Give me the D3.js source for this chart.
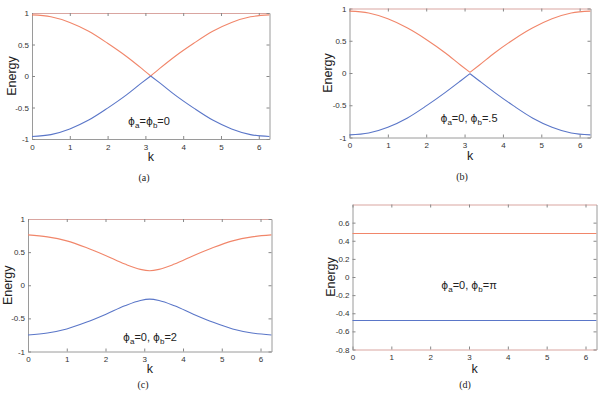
<!DOCTYPE html>
<html>
<head>
<meta charset="utf-8">
<script src="https://cdn.jsdelivr.net/npm/d3@7"></script>
<style>
  body { margin: 0; background: #fff; }
  svg { display: block; font-family: "Liberation Sans", Arial, sans-serif; }
</style>
</head>
<body>
<svg id="fig" width="598" height="399"></svg>
<script>
// k samples shared by every panel (0 .. 2pi)
const kValues = [0, 0.5, 1, 1.5, 2, 2.5, 2.9, 3.14, 3.38, 3.78, 4.28, 4.78, 5.28, 5.78, 6.28];

// band energies
const upperA = [0.97, 0.94, 0.85, 0.71, 0.52, 0.31, 0.12, 0.0, 0.12, 0.31, 0.52, 0.71, 0.85, 0.94, 0.97];
const lowerA = [-0.96, -0.93, -0.84, -0.70, -0.51, -0.30, -0.11, 0.0, -0.11, -0.30, -0.51, -0.70, -0.84, -0.93, -0.96];
const upperB = [0.96, 0.93, 0.84, 0.70, 0.52, 0.31, 0.12, 0.01, 0.12, 0.31, 0.52, 0.70, 0.84, 0.93, 0.96];
const lowerB = [-0.96, -0.93, -0.84, -0.70, -0.51, -0.30, -0.12, -0.01, -0.12, -0.30, -0.51, -0.70, -0.84, -0.93, -0.96];
const upperC = [0.76, 0.73, 0.67, 0.57, 0.45, 0.32, 0.24, 0.22, 0.24, 0.32, 0.45, 0.57, 0.67, 0.73, 0.76];
const lowerC = [-0.75, -0.72, -0.66, -0.56, -0.44, -0.31, -0.23, -0.21, -0.23, -0.31, -0.44, -0.56, -0.66, -0.72, -0.75];
const upperD = [0.48, 0.48, 0.48, 0.48, 0.48, 0.48, 0.48, 0.48, 0.48, 0.48, 0.48, 0.48, 0.48, 0.48, 0.48];
const lowerD = [-0.48, -0.48, -0.48, -0.48, -0.48, -0.48, -0.48, -0.48, -0.48, -0.48, -0.48, -0.48, -0.48, -0.48, -0.48];

// tick labels
const xTicks = [0, 1, 2, 3, 4, 5, 6];
const yTicksABC = [-1, -0.5, 0, 0.5, 1];
const yTicksD = [-0.8, -0.6, -0.4, -0.2, 0, 0.2, 0.4, 0.6];
const captions = ["(a)", "(b)", "(c)", "(d)"];
const phiAval = ["=", "=0, ", "=0, ", "=0, "];
const phiBval = ["=0", "=.5", "=2", "=\u03c0"];

const orange = "#f1866a";
const blue = "#5a76c8";

// layout of each panel (frame box, label spots)
const panels = [
  { box: [32, 13, 269.5, 139], yDom: [-1, 1], yTicks: yTicksABC, up: upperA, lo: lowerA, cusp: true,
    energyX: 12, kY: 157, capX: 144, capY: 177, annX: 149, annY: 125 },
  { box: [349.5, 8.5, 590.5, 137.5], yDom: [-1, 1], yTicks: yTicksABC, up: upperB, lo: lowerB, cusp: true,
    energyX: 328, kY: 156, capX: 462, capY: 176, annX: 469, annY: 122 },
  { box: [28, 219, 271.5, 351.5], yDom: [-1, 1], yTicks: yTicksABC, up: upperC, lo: lowerC, cusp: false,
    energyX: 8, kY: 369, capX: 143, capY: 384, annX: 150, annY: 341 },
  { box: [352.5, 204.5, 596.5, 349.5], yDom: [-0.8, 0.8], yTicks: yTicksD, up: upperD, lo: lowerD, cusp: false,
    energyX: 331, kY: 369, capX: 465, capY: 384, annX: 469, annY: 289 }
];

const svg = d3.select("#fig");

panels.forEach(function(p, i) {
  const [x0, y0, x1, y1] = p.box;
  const xScale = d3.scaleLinear().domain([0, 2 * Math.PI]).range([x0, x1]);
  const yScale = d3.scaleLinear().domain(p.yDom).range([y1, y0]);
  const g = svg.append("g");

  // matlab style box, inward ticks on all four sides
  const fmt = d => String(d);
  const bottom = g.append("g").attr("transform", `translate(0,${y1})`)
    .call(d3.axisBottom(xScale).tickValues(xTicks).tickFormat(fmt).tickSizeInner(-3).tickSizeOuter(0).tickPadding(5));
  const left = g.append("g").attr("transform", `translate(${x0},0)`)
    .call(d3.axisLeft(yScale).tickValues(p.yTicks).tickFormat(fmt).tickSizeInner(-3).tickSizeOuter(0).tickPadding(3));
  const top = g.append("g").attr("transform", `translate(0,${y0})`)
    .call(d3.axisTop(xScale).tickValues(xTicks).tickFormat("").tickSizeInner(-3).tickSizeOuter(0));
  const right = g.append("g").attr("transform", `translate(${x1},0)`)
    .call(d3.axisRight(yScale).tickValues(p.yTicks).tickFormat("").tickSizeInner(-3).tickSizeOuter(0));

  [bottom, left, top, right].forEach(a => {
    a.selectAll("line").attr("stroke", "#888");
    a.select(".domain").attr("stroke", "#9a9a9a");
    a.selectAll("text").attr("font-size", 8).attr("fill", "#333")
      .attr("font-family", "'Liberation Sans', Arial, sans-serif");
  });
  top.select(".domain").attr("stroke", "#d9a5a0");
  if (i === 3) bottom.select(".domain").attr("stroke", "#d9a5a0");

  // bands (split at k = pi where the two bands touch)
  const line = d3.line().x(d => xScale(d[0])).y(d => yScale(d[1])).curve(d3.curveMonotoneX);
  [[p.up, orange], [p.lo, blue]].forEach(function([vals, col]) {
    const pts = kValues.map((k, j) => [k, vals[j]]);
    const parts = p.cusp ? [pts.slice(0, 8), pts.slice(7)] : [pts];
    parts.forEach(part => {
      g.append("path").attr("d", line(part)).attr("fill", "none")
        .attr("stroke", col).attr("stroke-width", 1.1);
    });
  });

  // axis titles
  g.append("text").attr("transform", `translate(${p.energyX},${(y0 + y1) / 2}) rotate(-90)`)
    .attr("text-anchor", "middle").attr("dominant-baseline", "central")
    .attr("font-size", 12.5).attr("fill", "#222").text("Energy");
  g.append("text").attr("x", (x0 + x1) / 2).attr("y", p.kY)
    .attr("text-anchor", "middle").attr("dominant-baseline", "central")
    .attr("font-size", 12.5).attr("fill", "#222").text("k");

  // phase annotation
  const ann = g.append("text").attr("x", p.annX).attr("y", p.annY)
    .attr("text-anchor", "middle").attr("font-size", 11).attr("fill", "#222");
  const phi = () => ann.append("tspan").attr("font-family", "'DejaVu Sans', sans-serif")
    .attr("font-size", 10.5).text("\u03d5");
  phi();
  ann.append("tspan").attr("font-size", 8).attr("dy", 3).text("a");
  ann.append("tspan").attr("dy", -3).text(phiAval[i]);
  phi();
  ann.append("tspan").attr("font-size", 8).attr("dy", 3).text("b");
  ann.append("tspan").attr("dy", -3).text(phiBval[i]);

  // caption
  g.append("text").attr("x", p.capX).attr("y", p.capY)
    .attr("text-anchor", "middle").attr("dominant-baseline", "central")
    .attr("font-family", "'Liberation Serif', 'DejaVu Serif', serif")
    .attr("font-size", 10).attr("fill", "#222").text(captions[i]);
});
</script>
</body>
</html>
